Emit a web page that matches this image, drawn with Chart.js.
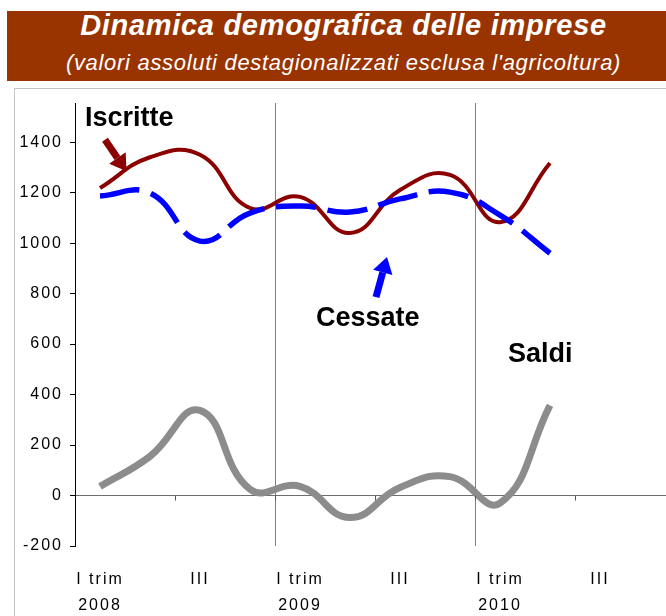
<!DOCTYPE html>
<html>
<head>
<meta charset="utf-8">
<script src="https://cdn.jsdelivr.net/npm/chart.js@4"></script>
<style>
  body { margin: 0; width: 666px; height: 616px; overflow: hidden; background: #fff; font-family: "Liberation Sans", Arial, sans-serif; }
  .banner { position: absolute; left: 7px; top: 11px; width: 673px; height: 70px; background: #993300; }
  .title { position: absolute; left: 7px; width: 673px; text-align: center; color: #fff; font-style: italic; white-space: nowrap; }
  .t1 { top: 10px; font-size: 29px; line-height: 30px; font-weight: bold; letter-spacing: 0.7px; }
  .t2 { top: 50px; font-size: 22px; line-height: 26px; letter-spacing: 0.7px; }
  .frame { position: absolute; left: 14px; top: 88px; width: 700px; height: 600px; border-left: 1px solid #c4c4c4; border-top: 1px solid #c4c4c4; }
  canvas { position: absolute; left: 0; top: 0; }
</style>
</head>
<body>
<div class="banner"></div>
<div class="title t1">Dinamica demografica delle imprese</div>
<div class="title t2">(valori assoluti destagionalizzati esclusa l'agricoltura)</div>
<div class="frame"></div>
<canvas id="chart" width="675" height="616"></canvas>
<script>
// trimestri 2008-2010
const quarters = ['2008 I', '2008 II', '2008 III', '2008 IV', '2009 I', '2009 II', '2009 III', '2009 IV', '2010 I', '2010 II', '2010 III', '2010 IV'];
const tickLabels = [['I trim', '2008'], '', 'III', '', ['I trim', '2009'], '', 'III', '', ['I trim', '2010'], '', 'III', ''];
const iscritte = [1218, 1340, 1350, 1139, 1183, 1040, 1210, 1270, 1083, 1317, null, null];
const cessate = [1187, 1198, 1008, 1119, 1147, 1123, 1175, 1202, 1111, 960, null, null];
const saldi = [36, 155, 337, 25, 36, -87, 32, 75, -30, 357, null, null];
const yTicks = [-200, 0, 200, 400, 600, 800, 1000, 1200, 1400];

// labels placed in data units (category index, value)
const notes = [
  { text: 'Iscritte', x: -0.3, y: 1464 },
  { text: 'Cessate', x: 4.32, y: 671 },
  { text: 'Saldi', x: 8.16, y: 528 }
];
const arrows = [
  { from: [0.1, 1409], to: [0.53, 1285], color: '#8b0000' },
  { from: [5.52, 786], to: [5.74, 945], color: '#0000ff' }
];

const extras = {
  id: 'extras',
  beforeDraw(chart) {
    chart.ctx.letterSpacing = '2px';
  },
  afterDatasetsDraw(chart) {
    const { ctx, scales: { x, y } } = chart;
    const y0 = y.getPixelForValue(0);
    ctx.save();
    ctx.strokeStyle = '#555';
    ctx.lineWidth = 1;
    for (let b = 2; b < quarters.length; b += 2) {
      const px = Math.round((x.getPixelForValue(b - 1) + x.getPixelForValue(b)) / 2) + 0.5;
      ctx.beginPath();
      ctx.moveTo(px, y0);
      ctx.lineTo(px, y0 + 5);
      ctx.stroke();
    }
    ctx.restore();
  },
  afterDraw(chart) {
    const { ctx, scales: { x, y } } = chart;
    ctx.save();
    ctx.letterSpacing = '0px';
    ctx.font = 'bold 27px "Liberation Sans", Arial, sans-serif';
    ctx.fillStyle = '#000';
    ctx.textBaseline = 'alphabetic';
    notes.forEach(n => ctx.fillText(n.text, x.getPixelForValue(n.x), y.getPixelForValue(n.y)));

    arrows.forEach(a => {
      const x1 = x.getPixelForValue(a.from[0]), y1 = y.getPixelForValue(a.from[1]);
      const x2 = x.getPixelForValue(a.to[0]), y2 = y.getPixelForValue(a.to[1]);
      const ang = Math.atan2(y2 - y1, x2 - x1);
      const head = 16, half = 10;
      const bx = x2 - head * Math.cos(ang), by = y2 - head * Math.sin(ang);
      ctx.strokeStyle = a.color;
      ctx.fillStyle = a.color;
      ctx.lineWidth = 7;
      ctx.beginPath();
      ctx.moveTo(x1, y1);
      ctx.lineTo(bx, by);
      ctx.stroke();
      ctx.beginPath();
      ctx.moveTo(x2, y2);
      ctx.lineTo(bx + half * Math.sin(ang), by - half * Math.cos(ang));
      ctx.lineTo(bx - half * Math.sin(ang), by + half * Math.cos(ang));
      ctx.closePath();
      ctx.fill();
    });
    ctx.restore();
  }
};

new Chart(document.getElementById('chart'), {
  type: 'line',
  data: {
    labels: quarters,
    datasets: [
      { label: 'Cessate', data: cessate, borderColor: '#0000ff', borderWidth: 5.5, borderDash: [40, 12], order: 0 },
      { label: 'Iscritte', data: iscritte, borderColor: '#8b0000', borderWidth: 4, order: 1 },
      { label: 'Saldi', data: saldi, borderColor: '#8c8c8c', borderWidth: 7, order: 2 }
    ]
  },
  options: {
    responsive: false,
    animation: false,
    elements: { point: { radius: 0 }, line: { tension: 0.45, borderCapStyle: 'butt' } },
    layout: { padding: { top: 103, left: 0, right: 0, bottom: 0 } },
    plugins: { legend: false, tooltip: { enabled: false } },
    scales: {
      x: {
        offset: true,
        grid: {
          offset: true,
          drawTicks: false,
          color: (c) => (c.index === 4 || c.index === 8) ? '#808080' : 'rgba(0,0,0,0)'
        },
        border: { display: false },
        ticks: {
          autoSkip: false,
          maxRotation: 0,
          padding: 21,
          color: '#000',
          font: { family: '"Liberation Sans", Arial, sans-serif', size: 16, lineHeight: 1.62 },
          callback: (v, i) => tickLabels[i]
        },
        afterFit: (s) => { s.height = 70; }
      },
      y: {
        min: -200,
        max: 1555,
        afterBuildTicks: (s) => { s.ticks = yTicks.map(v => ({ value: v })); },
        grid: {
          color: (c) => c.tick && c.tick.value === 0 ? '#6e6e6e' : 'rgba(0,0,0,0)',
          tickColor: '#000',
          tickLength: 5
        },
        border: { display: true, color: '#000', width: 1 },
        ticks: {
          padding: 7,
          color: '#000',
          font: { family: '"Liberation Sans", Arial, sans-serif', size: 16 },
          callback: (v) => String(v)
        },
        afterFit: (s) => { s.width = 75; }
      }
    }
  },
  plugins: [extras]
});
</script>
</body>
</html>
